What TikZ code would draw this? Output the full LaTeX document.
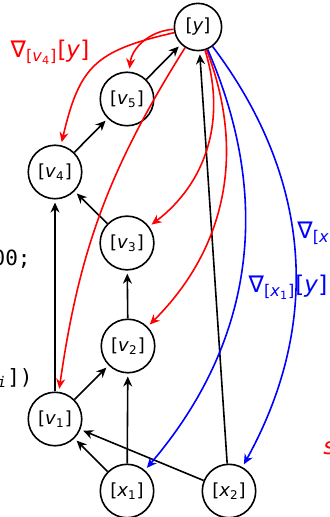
\documentclass[tikz,border=0pt]{standalone}
\usepackage{fontspec}
\setmainfont{DejaVu Sans}
\setmonofont{DejaVu Sans Mono}
\usetikzlibrary{arrows.meta}

\begin{document}
\begin{tikzpicture}[
    x=0.5pt, y=-0.5pt,
    var/.style={circle, draw, line width=0.8pt, inner sep=3pt, font=\fontsize{9}{10}\selectfont},
    fwd/.style={-{Stealth[length=5pt, width=4.5pt]}, line width=0.8pt, shorten >=1.5pt},
    bwdv/.style={fwd, red},
    bwdx/.style={fwd, blue},
    lbl/.style={font=\fontsize{11.5}{12}\selectfont, inner sep=0pt},
    code/.style={font=\ttfamily\fontsize{10.5}{12}\selectfont, inner sep=0pt, anchor=east}
]
    \useasboundingbox (0,0) rectangle (330,517);

    % Variables
    \node[var] (y)  at (198,27)  {[\textit{y}]};
    \node[var] (v5) at (127,99)  {[\textit{v}\textsubscript{5}]};
    \node[var] (v4) at (55,172)  {[\textit{v}\textsubscript{4}]};
    \node[var] (v3) at (127,243) {[\textit{v}\textsubscript{3}]};
    \node[var] (v2) at (128,346) {[\textit{v}\textsubscript{2}]};
    \node[var] (v1) at (55,419)  {[\textit{v}\textsubscript{1}]};
    \node[var] (x1) at (127,491) {[\textit{x}\textsubscript{1}]};
    \node[var] (x2) at (229,491) {[\textit{x}\textsubscript{2}]};

    % Forward pass
    \foreach \a/\b in {v5/y, v4/v5, v3/v4, v2/v3, x1/v2, v1/v2, v1/v4, x1/v1, x2/v1, x2/y}
        \draw[fwd] (\a) -- (\b);

    % Gradients w.r.t. intermediate values
    \draw[bwdv] (y) to[bend right=40] (v5);
    \draw[bwdv] (y) to[bend right=32, looseness=1.3] (v4);
    \draw[bwdv] (y) to[bend left=35] (v3);
    \draw[bwdv] (y) to[bend left=33] (v2);
    \draw[bwdv] (y) to[bend right=12] (v1);

    % Gradients w.r.t. inputs
    \draw[bwdx] (y) to[bend left=32] (x1);
    \draw[bwdx] (y) to[bend left=33] (x2);

    % Labels
    \node[lbl, red] (gv4) at (50,52) {∇\textsubscript{[\textit{v}\textsubscript{4}]}[\textit{y}]};
    \node[lbl, blue] (gx1) at (288,287) {∇\textsubscript{[\textit{x}\textsubscript{1}]}[\textit{y}]};
    \node[lbl, blue, anchor=west] (gx2) at (297,233) {∇\textsubscript{[\textit{x}]}};
    \node[lbl, red, anchor=west] (cut) at (323,448) {\textit{s}};
    \node[code] (code1) at (31,259) {00;};
    \node[code] (code2) at (33,378) {\textit{v}\textsubscript{\textit{i}}])};
\end{tikzpicture}
\end{document}
